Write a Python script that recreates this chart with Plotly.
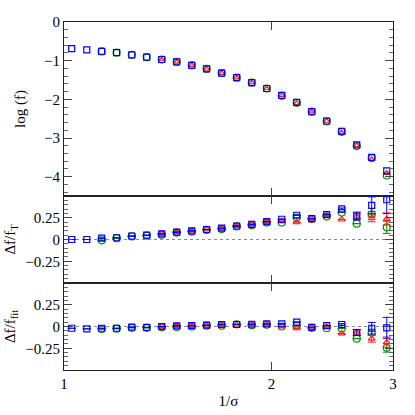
import plotly.graph_objects as go

# 1/sigma values (shared by all series)
inv_sigma = [1.026, 1.079, 1.134, 1.192, 1.254, 1.318, 1.386, 1.457, 1.532, 1.610, 1.693,
             1.780, 1.872, 1.968, 2.069, 2.175, 2.287, 2.404, 2.528, 2.658, 2.794, 2.938]

# top panel: log f
logf_sq = [-0.69, -0.72, -0.76, -0.79, -0.85, -0.91, -0.97, -1.03, -1.12, -1.21, -1.32,
           -1.44, -1.57, -1.72, -1.90, -2.08, -2.32, -2.56, -2.83, -3.18, -3.50, -3.85]
logf_ci = [-0.76, -0.79, -0.85, -0.91, -0.97, -1.03, -1.12, -1.21, -1.32,
           -1.44, -1.57, -1.72, -1.91, -2.09, -2.32, -2.57, -2.84, -3.21, -3.52, -3.97]
logf_tr = [-0.97, -1.03, -1.12, -1.21, -1.32,
           -1.44, -1.57, -1.72, -1.90, -2.10, -2.32, -2.56, -2.86, -3.19, -3.55, -3.91]

# middle panel: delta f / f_T
dT_sq = [0.00, 0.00, 0.015, 0.02, 0.04, 0.05, 0.065, 0.085, 0.10, 0.115, 0.13,
         0.155, 0.175, 0.205, 0.233, 0.279, 0.24, 0.287, 0.352, 0.27, 0.393, 0.457]
dT_sq_err = [0, 0, 0, 0, 0, 0, 0, 0, 0, 0, 0, 0, 0, 0, 0, 0, 0, 0, 0.01, 0.045, 0.097, 0.16]
dT_ci = [-0.01, 0.015, 0.035, 0.045, 0.055, 0.08, 0.09, 0.11, 0.12, 0.15, 0.165,
         0.195, 0.194, 0.252, 0.236, 0.264, 0.31, 0.182, 0.29, 0.14]
dT_ci_err = [0, 0, 0, 0, 0, 0, 0, 0, 0, 0, 0, 0, 0, 0, 0, 0, 0, 0, 0.03, 0.07]
dT_tr = [0.065, 0.085, 0.095, 0.115, 0.125, 0.155, 0.17, 0.20, 0.21, 0.198, 0.236,
         0.276, 0.23, 0.264, 0.244, 0.236]
dT_tr_err = [0, 0, 0, 0, 0, 0, 0, 0, 0, 0, 0, 0, 0, 0.03, 0.04, 0.07]

# bottom panel: delta f / f_fit
dF_sq = [-0.02, -0.027, -0.02, -0.02, -0.008, -0.01, 0.0, 0.008, 0.01, 0.015, 0.023,
         0.023, 0.026, 0.03, 0.03, 0.05, -0.01, 0.01, 0.023, -0.069, -0.02, -0.015]
dF_sq_err = [0, 0, 0, 0, 0, 0, 0, 0, 0, 0, 0, 0, 0, 0, 0, 0, 0, 0, 0.01, 0.035, 0.067, 0.12]
dF_ci = [-0.03, -0.025, -0.015, -0.015, -0.01, -0.005, 0.0, 0.01, 0.01, 0.025, 0.015,
         0.02, 0.0, 0.01, -0.015, -0.02, -0.023, -0.14, -0.07, -0.245]
dF_ci_err = [0, 0, 0, 0, 0, 0, 0, 0, 0, 0, 0, 0, 0, 0, 0, 0, 0, 0, 0.03, 0.05]
dF_tr = [-0.005, 0.005, 0.005, 0.01, 0.015, 0.02, 0.02, 0.02, 0.0, -0.02, -0.015,
         -0.005, -0.08, -0.07, -0.14, -0.18]
dF_tr_err = [0, 0, 0, 0, 0, 0, 0, 0, 0, 0, 0, 0, 0, 0.03, 0.04, 0.06]

BLUE = "#0000ff"
GREEN = "#009000"
RED = "#ff2020"
FONT = "Liberation Serif"

x_sq = inv_sigma
x_ci = inv_sigma[2:]
x_tr = inv_sigma[6:]

fig = go.Figure()


def add(x, y, err, color, symbol, size, xa, ya):
    kw = {}
    if err is not None:
        kw["error_y"] = dict(type="data", array=err, visible=True, color=color,
                             thickness=1, width=4)
    fig.add_trace(go.Scatter(x=x, y=y, mode="markers", xaxis=xa, yaxis=ya,
                             marker=dict(symbol=symbol, size=size, color=color,
                                         line=dict(width=1.2, color=color)),
                             showlegend=False, hoverinfo="skip", **kw))


# top
add(x_ci, logf_ci, None, GREEN, "circle-open", 7, "x", "y")
add(x_tr, logf_tr, None, RED, "triangle-up-open", 5, "x", "y")
add(x_sq, logf_sq, None, BLUE, "square-open", 6, "x", "y")
# middle
add(x_ci, dT_ci, dT_ci_err, GREEN, "circle-open", 7, "x2", "y2")
add(x_tr, dT_tr, dT_tr_err, RED, "triangle-up-open", 6, "x2", "y2")
add(x_sq, dT_sq, dT_sq_err, BLUE, "square-open", 6, "x2", "y2")
# bottom
add(x_ci, dF_ci, dF_ci_err, GREEN, "circle-open", 7, "x3", "y3")
add(x_tr, dF_tr, dF_tr_err, RED, "triangle-up-open", 6, "x3", "y3")
add(x_sq, dF_sq, dF_sq_err, BLUE, "square-open", 6, "x3", "y3")

for xr in ["x2", "x3"]:
    yr = xr.replace("x", "y")
    fig.add_shape(type="line", xref=f"{xr} domain", yref=yr, x0=0, x1=1, y0=0, y1=0,
                  line=dict(color="#888888", width=1.2, dash="dot"), layer="below")

xcommon = dict(type="log", range=[0, 0.47712], tickvals=[1, 2, 3], ticktext=["1", "2", "3"],
               ticks="inside", ticklen=8, tickcolor="#444", showline=True, linecolor="#222",
               linewidth=1, mirror="allticks", showgrid=False, zeroline=False, automargin=False,
               tickfont=dict(family=FONT, size=15, color="black"))
ycommon = dict(ticks="inside", ticklen=8, tickcolor="#444", showline=True, linecolor="#222",
               linewidth=1, mirror="allticks", showgrid=False, zeroline=False, automargin=False,
               tickfont=dict(family=FONT, size=15, color="black"),
               title_font=dict(family=FONT, size=15, color="black"))

fig.update_layout(
    width=415, height=415,
    margin=dict(l=64, r=22, t=22, b=45),
    paper_bgcolor="white", plot_bgcolor="white",
    xaxis=dict(xcommon, anchor="y", showticklabels=False),
    xaxis2=dict(xcommon, anchor="y2", showticklabels=False),
    xaxis3=dict(xcommon, anchor="y3", showticklabels=True,
                title=dict(text="1/σ", font=dict(family=FONT, size=15, color="black"), standoff=4)),
    yaxis=dict(ycommon, domain=[0.5, 1.0], range=[-4.5, 0], tickvals=[0, -1, -2, -3, -4],
               minor=dict(ticks="inside", ticklen=4, dtick=0.2, tick0=0, tickcolor="#666"),
               title=dict(text="log (f)", standoff=14), anchor="x"),
    yaxis2=dict(ycommon, domain=[0.25, 0.5], range=[-0.5, 0.5], tickvals=[-0.25, 0, 0.25],
                ticktext=["−0.25", "0", "0.25"],
                minor=dict(ticks="inside", ticklen=4, dtick=0.05, tick0=0, tickcolor="#666"),
                title=dict(text="Δf/f<sub>T</sub>", standoff=6), anchor="x2"),
    yaxis3=dict(ycommon, domain=[0.0, 0.25], range=[-0.5, 0.5], tickvals=[-0.25, 0, 0.25],
                ticktext=["−0.25", "0", "0.25"],
                minor=dict(ticks="inside", ticklen=4, dtick=0.05, tick0=0, tickcolor="#666"),
                title=dict(text="Δf/f<sub>fit</sub>", standoff=6), anchor="x3"),
)

fig.write_html("out.html", config={"displayModeBar": False, "staticPlot": True},
               post_script="document.body.style.margin='0';document.body.style.overflow='hidden';")
